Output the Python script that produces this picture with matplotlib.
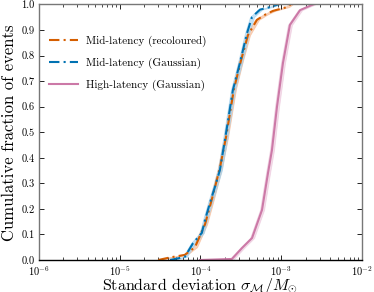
import matplotlib
matplotlib.use("Agg")
import matplotlib.pyplot as plt
import numpy as np

plt.rcParams['font.family'] = 'serif'
plt.rcParams['font.serif'] = ['cmr10', 'DejaVu Serif']
plt.rcParams['mathtext.fontset'] = 'cm'
plt.rcParams['axes.formatter.use_mathtext'] = True
plt.rcParams['axes.unicode_minus'] = False

# Mid-latency (recoloured)
recol_x = [3.0e-5, 4.2e-5, 6.4e-5, 8.55e-5, 1.14e-4, 1.39e-4, 1.74e-4, 2.07e-4,
           2.60e-4, 3.17e-4, 3.87e-4, 5.0e-4, 6.3e-4, 7.9e-4, 1.18e-3, 1.3e-3]
recol_y = [0.0, 0.01, 0.02, 0.05, 0.14, 0.24, 0.36, 0.48,
           0.67, 0.78, 0.88, 0.94, 0.96, 0.975, 0.99, 1.0]

# Mid-latency (Gaussian)
gauss_x = [4.2e-5, 6.4e-5, 8.1e-5, 1.04e-4, 1.14e-4, 1.31e-4, 1.51e-4, 1.74e-4,
           2.01e-4, 2.52e-4, 3.08e-4, 3.77e-4, 4.35e-4, 5.46e-4, 7.3e-4, 9.1e-4]
gauss_y = [0.0, 0.012, 0.066, 0.106, 0.157, 0.223, 0.286, 0.352,
           0.47, 0.665, 0.771, 0.888, 0.951, 0.98, 0.99, 1.0]

# High-latency (Gaussian)
high_x = [9.9e-5, 2.45e-4, 3.27e-4, 4.35e-4, 5.78e-4, 6.86e-4, 7.67e-4, 8.85e-4,
          1.05e-3, 1.28e-3, 1.71e-3, 2.47e-3]
high_y = [0.0, 0.004, 0.047, 0.086, 0.196, 0.341, 0.43, 0.599,
          0.771, 0.92, 0.978, 1.0]

labels = ['Mid-latency (recoloured)', 'Mid-latency (Gaussian)', 'High-latency (Gaussian)']

fig = plt.figure(figsize=(3.74, 2.92), dpi=100)
ax = fig.add_axes([0.104, 0.1096, 0.864, 0.875])

band = 1.06
series = [
    (recol_x, recol_y, '#D55E00', '#F6B48C', (0, (5, 2, 1, 2)), labels[0]),
    (gauss_x, gauss_y, '#0072B2', '#9DD0F0', (0, (5, 2, 1, 2)), labels[1]),
    (high_x, high_y, '#CC79A7', '#EBC3DA', '-', labels[2]),
]
for xs, ys, c, bc, ls, lab in series:
    xs = np.array(xs); ys = np.array(ys)
    ax.fill_betweenx(ys, xs / band, xs * band, color=bc, alpha=0.6, lw=0.6,
                     edgecolor=bc)
    ax.plot(xs, ys, color=c, ls=ls, lw=1.5, label=lab)

ax.set_xscale('log')
ax.set_xlim(1e-6, 1e-2)
ax.set_ylim(0, 1)
ax.set_yticks(np.arange(0, 1.01, 0.1))
ax.set_yticklabels([f'{v:.1f}' for v in np.arange(0, 1.01, 0.1)])
ax.tick_params(which='both', direction='in', top=True, right=True, labelsize=7.5)
ax.tick_params(which='major', length=3.5, width=0.6, pad=3)
ax.tick_params(which='minor', length=2, width=0.5)
for s in ['left', 'top', 'right']:
    ax.spines[s].set_color('#777777')
ax.spines['bottom'].set_color('black')
for s in ax.spines.values():
    s.set_linewidth(1.0)

ax.set_xlabel(r'Standard deviation $\sigma_{\mathcal{M}}/M_{\odot}$', fontsize=11.5, labelpad=-1.5)
ax.set_ylabel('Cumulative fraction of events', fontsize=12, labelpad=3)

leg = ax.legend(loc='upper left', bbox_to_anchor=(0.0, 0.915), frameon=False,
                fontsize=8, handlelength=2.6, labelspacing=0.95, handletextpad=0.7)

fig.savefig('out.png', dpi=100)
